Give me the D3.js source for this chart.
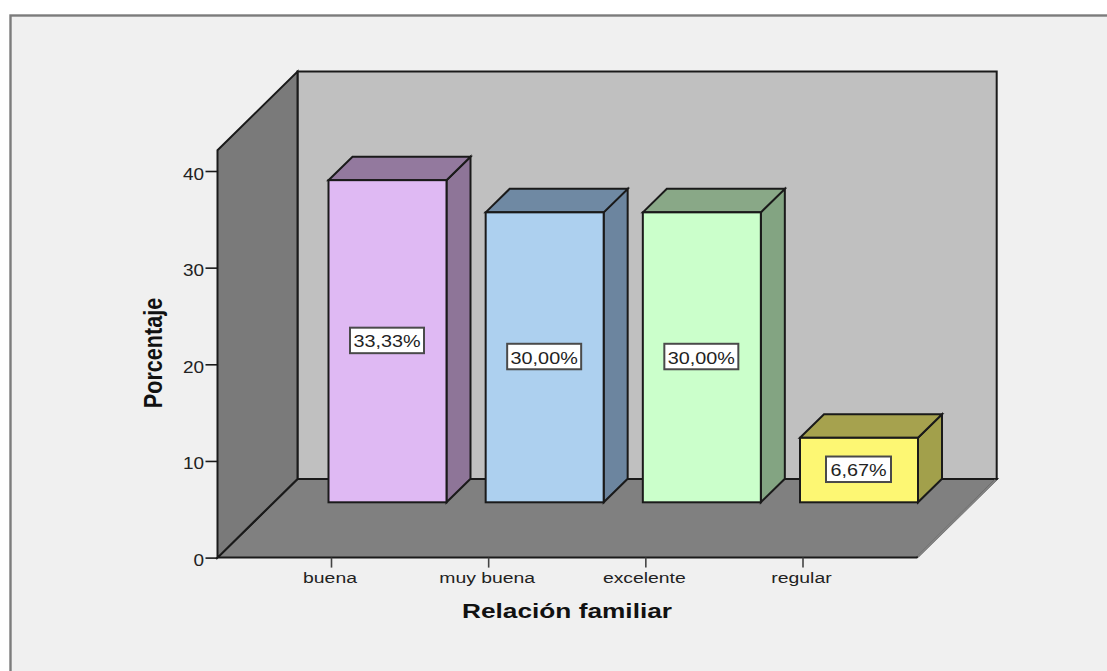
<!DOCTYPE html>
<html lang="es">
<head>
<meta charset="utf-8">
<title>Relación familiar</title>
<script src="https://cdn.jsdelivr.net/npm/d3@7/dist/d3.min.js"></script>
<style>
  html, body { margin: 0; padding: 0; background: #fff; }
  svg { display: block; }
  text { font-family: "Liberation Sans", Arial, sans-serif; fill: #222; }
</style>
</head>
<body>
<script>
// Values of the bar chart
const categories = ["buena", "muy buena", "excelente", "regular"];
const percentages = [33.33, 30.00, 30.00, 6.67];
const valueLabels = ["33,33%", "30,00%", "30,00%", "6,67%"];
const yTicks = [0, 10, 20, 30, 40];
const frontColors = ["#dfb9f3", "#add0ef", "#cbffcb", "#fdf773"];
const topColors = ["#93799e", "#6f89a3", "#89a887", "#a6a24e"];
const sideColors = ["#8e7598", "#6c859f", "#83a482", "#a2a04b"];

const width = 1107, height = 671;
const svg = d3.select("body").append("svg")
  .attr("width", width).attr("height", height);

// Scales on the front plane of the box
const y = d3.scaleLinear().domain([0, 40]).range([557.6, 171]);
const x = d3.scalePoint().domain(categories).range([331, 802.5]);

// Oblique projection of the box and the bars
const boxLeft = 217.5, boxRight = 916.7;
const boxDepthX = 80, boxDepthY = 78.6;
const boxTop = y(42.15);
const barWidth = 118, barDepthX = 24, barDepthY = 23.5;
const barInsetX = 56.5, barInsetY = 55.3;
const outline = "#1a1a1a";
const poly = pts => pts.map(p => p.join(",")).join(" ");

// Panel behind the chart, its right and bottom edges run off the page
svg.append("rect").attr("x", 10.5).attr("y", 15.5)
  .attr("width", width + 10).attr("height", height + 10)
  .attr("fill", "#f0f0f0").attr("stroke", "#7c7c7c").attr("stroke-width", 2.4);

// Box walls
const wall = (pts, fill) => svg.append("polygon").attr("points", poly(pts))
  .attr("fill", fill).attr("stroke", outline).attr("stroke-width", 2)
  .attr("stroke-linejoin", "miter");

const backL = boxLeft + boxDepthX, backR = boxRight + boxDepthX;
wall([[backL, boxTop - boxDepthY], [backR, boxTop - boxDepthY],
      [backR, y(0) - boxDepthY], [backL, y(0) - boxDepthY]], "#c0c0c0");
wall([[boxLeft, y(0)], [backL, y(0) - boxDepthY],
      [backR, y(0) - boxDepthY], [boxRight, y(0)]], "#808080");
wall([[boxLeft, boxTop], [backL, boxTop - boxDepthY],
      [backL, y(0) - boxDepthY], [boxLeft, y(0)]], "#7a7a7a");

// The right edge of the floor has no visible outline
svg.append("line")
  .attr("x1", boxRight + 1).attr("y1", y(0) - 1)
  .attr("x2", backR - 1).attr("y2", y(0) - boxDepthY + 1)
  .attr("stroke", "#808080").attr("stroke-width", 2.4);

// Axes
const yAxis = d3.axisLeft(y).tickValues(yTicks).tickSize(12).tickPadding(2);
const xAxis = d3.axisBottom(x).tickSize(10).tickPadding(2);

const gy = svg.append("g").attr("transform", `translate(${boxLeft},0)`).call(yAxis);
gy.select(".domain").remove();
gy.selectAll("line").attr("stroke", outline).attr("stroke-width", 1.6);
gy.selectAll("text").attr("x", null).attr("dy", null).attr("text-anchor", "end")
  .attr("font-size", 16.5)
  .attr("transform", "translate(-13.5,8) scale(1.15,1)");

const gx = svg.append("g").attr("transform", `translate(0,${y(0)})`).call(xAxis);
gx.select(".domain").remove();
gx.selectAll("line").attr("stroke", "#444").attr("stroke-width", 1.6);
gx.selectAll("text").attr("y", null).attr("dy", null).attr("text-anchor", "middle")
  .attr("font-size", 15.5)
  .attr("transform", "translate(-1.5,25) scale(1.25,1)");

// Bars: side, top, then front face
const bars = svg.append("g").selectAll("g").data(categories).join("g");

const geom = i => {
  const l = x(categories[i]) + barInsetX - barWidth / 2;
  const r = l + barWidth;
  const t = y(percentages[i]) - barInsetY;
  const b = y(0) - barInsetY;
  return { l, r, t, b };
};

const styled = sel => sel.attr("stroke", outline).attr("stroke-width", 2);

bars.append("polygon").attr("points", (d, i) => {
  const { r, t, b } = geom(i);
  return poly([[r, t], [r + barDepthX, t - barDepthY], [r + barDepthX, b - barDepthY], [r, b]]);
}).attr("fill", (d, i) => sideColors[i]).call(styled);

bars.append("polygon").attr("points", (d, i) => {
  const { l, r, t } = geom(i);
  return poly([[l, t], [l + barDepthX, t - barDepthY], [r + barDepthX, t - barDepthY], [r, t]]);
}).attr("fill", (d, i) => topColors[i]).call(styled);

bars.append("rect")
  .attr("x", (d, i) => geom(i).l).attr("y", (d, i) => geom(i).t)
  .attr("width", barWidth).attr("height", (d, i) => geom(i).b - geom(i).t)
  .attr("fill", (d, i) => frontColors[i]).call(styled);

// Value labels in white boxes, centred on each front face
const labelH = 25.5;
bars.each(function (d, i) {
  const { l, r, t, b } = geom(i);
  const cx = (l + r) / 2 - 0.5, cy = (t + b) / 2 - 0.8;
  const labelW = i === 3 ? 65 : 74;
  const g = d3.select(this);
  g.append("rect").attr("x", cx - labelW / 2).attr("y", cy - labelH / 2)
    .attr("width", labelW).attr("height", labelH)
    .attr("fill", "#fff").attr("stroke", "#4a4a4a").attr("stroke-width", 2);
  g.append("text").text(valueLabels[i]).attr("text-anchor", "middle")
    .attr("font-size", 16.5)
    .attr("transform", `translate(${cx},${cy + 7}) scale(1.2,1)`);
});

// Axis titles
svg.append("text").text("Relación familiar")
  .attr("text-anchor", "middle").attr("font-weight", "bold")
  .attr("font-size", 21).style("fill", "#111")
  .attr("transform", "translate(567,618) scale(1.25,1)");

svg.append("text").text("Porcentaje")
  .attr("text-anchor", "middle").attr("font-weight", "bold")
  .attr("font-size", 26).style("fill", "#111")
  .attr("transform", "translate(162,353) rotate(-90) scale(0.83,1)");
</script>
</body>
</html>
